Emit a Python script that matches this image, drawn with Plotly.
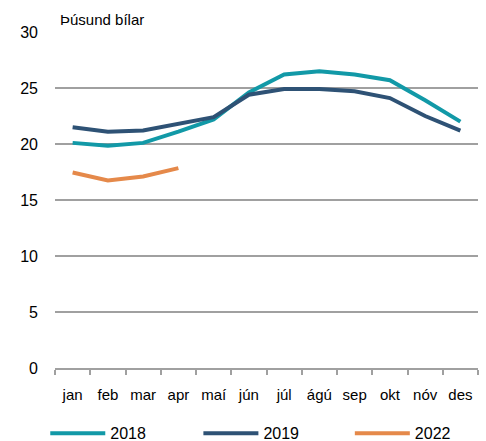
import plotly.graph_objects as go

months = ["jan", "feb", "mar", "apr", "maí", "jún", "júl", "ágú", "sep", "okt", "nóv", "des"]
y2018 = [20.1, 19.85, 20.1, 21.1, 22.2, 24.6, 26.2, 26.5, 26.2, 25.7, 23.9, 22.0]
y2019 = [21.5, 21.1, 21.2, 21.8, 22.4, 24.4, 24.9, 24.9, 24.7, 24.1, 22.5, 21.2]
y2022 = [17.45, 16.75, 17.1, 17.85]

font = "Liberation Sans"
fig = go.Figure()
fig.add_trace(go.Scatter(x=months, y=y2018, name="2018", mode="lines", legend="legend",
                         line=dict(color="#1299a7", width=4)))
fig.add_trace(go.Scatter(x=months, y=y2019, name="2019", mode="lines", legend="legend2",
                         line=dict(color="#2e5275", width=4)))
fig.add_trace(go.Scatter(x=months[:4], y=y2022, name="2022", mode="lines", legend="legend3",
                         line=dict(color="#e5894a", width=4)))

leg = dict(orientation="h", y=-0.245, yanchor="bottom", xanchor="left",
           itemwidth=55, font=dict(size=16), bgcolor="rgba(0,0,0,0)")

fig.update_layout(
    width=486, height=441,
    margin=dict(l=55, r=8, t=32, b=73, autoexpand=False),
    plot_bgcolor="white", paper_bgcolor="white",
    font=dict(family=font, size=15, color="#000000"),
    showlegend=True,
    legend=dict(leg, x=-0.023),
    legend2=dict(leg, x=0.339),
    legend3=dict(leg, x=0.697),
    xaxis=dict(type="category", tickson="boundaries", showgrid=False, range=[-0.5, 11.5],
               showline=True, linecolor="#a0a0a0", linewidth=1.5, tickangle=0,
               ticks="outside", ticklen=5, tickcolor="#a0a0a0", tickwidth=1.5,
               ticklabelstandoff=12, tickfont=dict(size=15)),
    yaxis=dict(range=[0, 30], dtick=5, showgrid=True, gridcolor="#a0a0a0", gridwidth=1.5,
               zeroline=False, showline=False, ticks="", ticklabelstandoff=16,
               tickfont=dict(size=16)),
    annotations=[dict(text="Þúsund bílar", x=0, y=1, xref="paper", yref="paper",
                      xanchor="left", yanchor="bottom", xshift=3, yshift=2,
                      showarrow=False, font=dict(size=15))],
)
fig.write_html("out.html", config={"displayModeBar": False},
               post_script="document.body.style.margin='0';")
